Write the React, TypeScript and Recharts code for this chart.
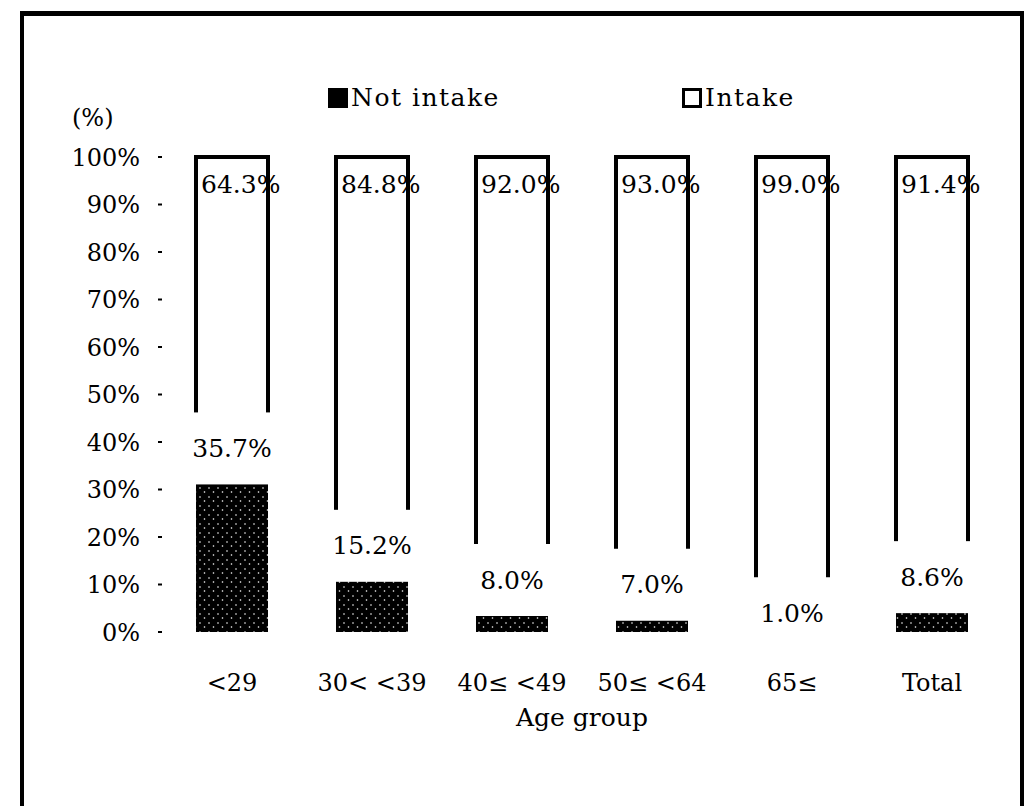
import React from 'react';
import { BarChart, Bar, XAxis, YAxis, LabelList } from 'recharts';

const ageGroups = ['<29', '30< <39', '40≤ <49', '50≤ <64', '65≤', 'Total'];
const notIntake = [35.7, 15.2, 8.0, 7.0, 1.0, 8.6];
const intake = [64.3, 84.8, 92.0, 93.0, 99.0, 91.4];
const yTicks = [0, 10, 20, 30, 40, 50, 60, 70, 80, 90, 100];

const data = ageGroups.map((group, i) => ({
  group,
  notIntake: notIntake[i],
  intake: intake[i],
}));

const FONT = '"DejaVu Serif", serif';

// value of the intake share, just inside the top of the white bar
const IntakeLabel = (props: any) => {
  const { x, y, value } = props;
  return (
    <text x={x + 5} y={y + 27} fontSize={25} fontFamily={FONT} fill="#000" dominantBaseline="central">
      {`${Number(value).toFixed(1)}%`}
    </text>
  );
};

// not-intake share, boxed in white over the join between the two bars
const NotIntakeLabel = (props: any) => {
  const { x, y, width, height, value } = props;
  const join = y + height;
  const cy = join - 14;
  return (
    <g>
      <rect x={x - 5} y={cy - 36} width={width + 10} height={72} fill="#fff" />
      <text
        x={x + width / 2}
        y={cy}
        fontSize={25}
        fontFamily={FONT}
        fill="#000"
        textAnchor="middle"
        dominantBaseline="central"
      >
        {`${Number(value).toFixed(1)}%`}
      </text>
    </g>
  );
};

const LegendBox = ({ filled }: { filled: boolean }) => (
  <span
    style={{
      display: 'inline-block',
      width: 20,
      height: 20,
      boxSizing: 'border-box',
      background: filled ? '#000' : '#fff',
      border: '3px solid #000',
      marginRight: 3,
    }}
  />
);

export default function App() {
  return (
    <div style={{ position: 'absolute', left: 0, top: 0, width: 1027, height: 806, overflow: 'hidden', background: '#fff' }}>
      <div
        style={{
          position: 'absolute',
          left: 20,
          top: 11,
          width: 1004,
          height: 840,
          boxSizing: 'border-box',
          borderStyle: 'solid',
          borderColor: '#000',
          borderWidth: '5px 4px 4px 4px',
        }}
      />
      <div style={{ position: 'absolute', left: 72, top: 104, fontFamily: FONT, fontSize: 24 }}>(%)</div>
      <div
        style={{
          position: 'absolute',
          left: 328,
          top: 83,
          display: 'flex',
          alignItems: 'center',
          fontFamily: FONT,
          fontSize: 25,
          letterSpacing: 1.5,
        }}
      >
        <LegendBox filled />
        <span>Not intake</span>
      </div>
      <div
        style={{
          position: 'absolute',
          left: 682,
          top: 83,
          display: 'flex',
          alignItems: 'center',
          fontFamily: FONT,
          fontSize: 25,
          letterSpacing: 1.5,
        }}
      >
        <LegendBox filled={false} />
        <span>Intake</span>
      </div>
      <div style={{ position: 'absolute', left: 0, top: 0 }}>
        <BarChart
          width={1027}
          height={806}
          data={data}
          margin={{ top: 157, right: 25, bottom: 74, left: 102 }}
          barSize={72}
          style={{ fontFamily: FONT }}
        >
          <defs>
            <pattern id="speckle" width="9" height="9" patternUnits="userSpaceOnUse">
              <rect width="9" height="9" fill="#000" />
              <circle cx="2" cy="2" r="0.8" fill="#fff" />
              <circle cx="6.5" cy="6" r="0.8" fill="#fff" />
            </pattern>
          </defs>
          <XAxis
            dataKey="group"
            height={100}
            axisLine={false}
            tickLine={false}
            tickSize={0}
            tickMargin={42}
            interval={0}
            tick={{ fill: '#000', fontSize: 24, fontFamily: FONT }}
            label={{ value: 'Age group', position: 'insideBottom', offset: 6, fill: '#000', fontSize: 25, fontFamily: FONT }}
          />
          <YAxis
            width={60}
            domain={[0, 100]}
            ticks={yTicks}
            interval={0}
            axisLine={false}
            tickLine={{ stroke: '#000', strokeWidth: 2 }}
            tickSize={4}
            tickMargin={18}
            tickFormatter={(v: number) => `${v}%`}
            tick={{ fill: '#000', fontSize: 24, fontFamily: FONT }}
          />
          <Bar dataKey="notIntake" stackId="a" fill="url(#speckle)" isAnimationActive={false} />
          <Bar dataKey="intake" stackId="a" fill="#fff" stroke="#000" strokeWidth={4} isAnimationActive={false}>
            <LabelList dataKey="notIntake" content={NotIntakeLabel} />
            <LabelList dataKey="intake" content={IntakeLabel} />
          </Bar>
        </BarChart>
      </div>
    </div>
  );
}
